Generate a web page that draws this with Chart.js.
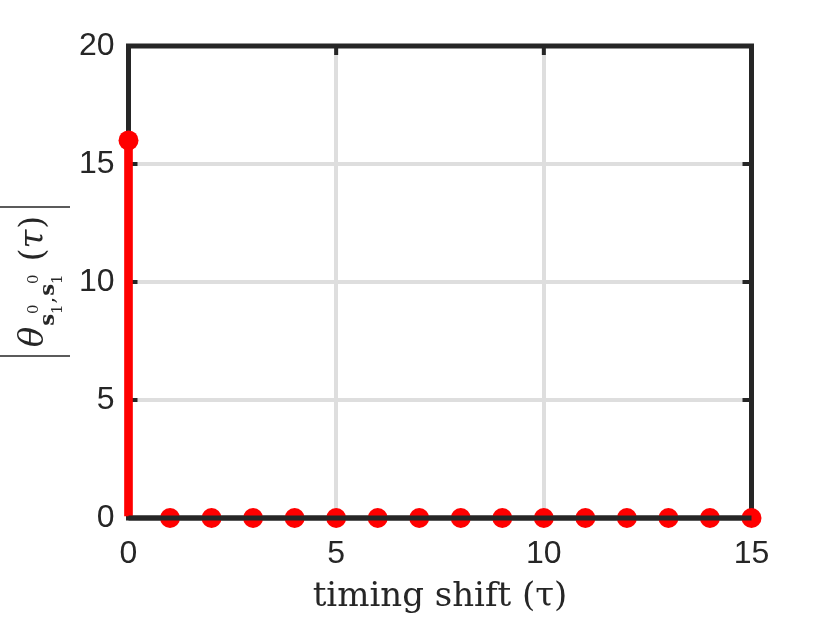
<!DOCTYPE html>
<html>
<head>
<meta charset="utf-8">
<script src="https://cdn.jsdelivr.net/npm/chart.js@4"></script>
<style>
  body { margin: 0; background: #fff; }
  canvas { display: block; }
</style>
</head>
<body>
<canvas id="stemChart" width="830" height="623"></canvas>
<script>
// data
const shifts = [0, 1, 2, 3, 4, 5, 6, 7, 8, 9, 10, 11, 12, 13, 14, 15];
const corrValues = [16, 0, 0, 0, 0, 0, 0, 0, 0, 0, 0, 0, 0, 0, 0, 0];
const xTicks = [0, 5, 10, 15];
const yTicks = [0, 5, 10, 15, 20];

const points = shifts.map((s, i) => ({ x: s, y: corrValues[i] }));

const axisColor = '#262626';
const serif = '"DejaVu Serif", "Liberation Serif", serif';
const tickFont = { family: '"Liberation Sans", Arial, Helvetica, sans-serif', size: 32 };

// box around the axes, inward tick marks, stem baseline
const framePlugin = {
  id: 'frame',
  beforeDatasetsDraw(chart) {
    const { ctx, chartArea: a, scales } = chart;
    ctx.save();
    ctx.strokeStyle = axisColor;
    ctx.lineWidth = 4;
    xTicks.forEach(v => {
      const px = scales.x.getPixelForValue(v);
      ctx.beginPath();
      ctx.moveTo(px, a.bottom); ctx.lineTo(px, a.bottom - 9);
      ctx.moveTo(px, a.top); ctx.lineTo(px, a.top + 9);
      ctx.stroke();
    });
    yTicks.forEach(v => {
      const py = scales.y.getPixelForValue(v);
      ctx.beginPath();
      ctx.moveTo(a.left, py); ctx.lineTo(a.left + 9, py);
      ctx.moveTo(a.right, py); ctx.lineTo(a.right - 9, py);
      ctx.stroke();
    });
    ctx.lineWidth = 5;
    ctx.strokeRect(a.left, a.top, a.right - a.left, a.bottom - a.top);
    ctx.restore();
  },
  afterDatasetsDraw(chart) {
    const { ctx, scales } = chart;
    const y0 = scales.y.getPixelForValue(0);
    ctx.save();
    ctx.strokeStyle = axisColor;
    ctx.lineWidth = 5;
    ctx.beginPath();
    ctx.moveTo(scales.x.getPixelForValue(shifts[0]), y0);
    ctx.lineTo(scales.x.getPixelForValue(shifts[shifts.length - 1]), y0);
    ctx.stroke();
    ctx.restore();
  }
};

// rotated y label |theta_{s_1^0,s_1^0}(tau)|
const yLabelPlugin = {
  id: 'yLabel',
  afterDraw(chart) {
    const ctx = chart.ctx;
    const big = '33px ' + serif;
    const bigIt = 'italic 34px ' + serif;
    const subB = 'bold 21px ' + serif;
    const sub = '21px ' + serif;
    const scr = '15px ' + serif;
    const script = { stack: true, top: '0', bottom: '1' };
    const parts = [
      { t: '\u03B8', f: bigIt, dy: 0, gap: 1 },
      { t: 's', f: subB, dy: 11 },
      script,
      { t: ',', f: sub, dy: 11, gap: 1 },
      { t: 's', f: subB, dy: 11 },
      script,
      { gap: 12 },
      { t: '(', f: big, dy: 0 },
      { t: '\u03C4', f: bigIt, dy: 0, gap: 1 },
      { t: ')', f: big, dy: 0 }
    ];
    ctx.save();
    ctx.translate(43, 281.5);
    ctx.rotate(-Math.PI / 2);
    ctx.fillStyle = axisColor;
    ctx.textBaseline = 'alphabetic';
    ctx.textAlign = 'left';
    const widthOf = p => {
      if (p.stack) {
        ctx.font = scr;
        return Math.max(ctx.measureText(p.top).width, ctx.measureText(p.bottom).width) + 1;
      }
      if (!p.t) return 0;
      ctx.font = p.f;
      return ctx.measureText(p.t).width;
    };
    let total = 0;
    parts.forEach(p => { total += widthOf(p) + (p.gap || 0); });
    let u = -total / 2;
    parts.forEach(p => {
      const w = widthOf(p);
      if (p.stack) {
        ctx.font = scr;
        ctx.fillText(p.top, u, -5);
        ctx.fillText(p.bottom, u, 19);
      } else if (p.t) {
        ctx.font = p.f;
        ctx.fillText(p.t, u, p.dy);
      }
      u += w + (p.gap || 0);
    });
    // absolute value bars
    ctx.strokeStyle = axisColor;
    ctx.lineWidth = 1.6;
    ctx.beginPath();
    ctx.moveTo(-74.5, -43); ctx.lineTo(-74.5, 27);
    ctx.moveTo(74.5, -43); ctx.lineTo(74.5, 27);
    ctx.stroke();
    ctx.restore();
  }
};

const ctx = document.getElementById('stemChart').getContext('2d');
const stemChart = new Chart(ctx, {
  data: {
    datasets: [
      {
        type: 'scatter',
        data: points,
        pointRadius: 10,
        pointHoverRadius: 10,
        pointBackgroundColor: '#ff0000',
        pointBorderWidth: 0,
        clip: false,
        order: 0
      },
      {
        type: 'bar',
        data: points,
        backgroundColor: '#ff0000',
        barThickness: 8,
        grouped: false,
        clip: false,
        order: 1
      }
    ]
  },
  options: {
    responsive: false,
    animation: false,
    devicePixelRatio: 1,
    layout: { padding: { top: 46, right: 78.5, left: 0, bottom: 0 } },
    plugins: {
      legend: { display: false },
      tooltip: { enabled: false }
    },
    scales: {
      x: {
        type: 'linear',
        min: 0,
        max: 15,
        offset: false,
        ticks: { stepSize: 5, padding: 17, font: tickFont, color: axisColor },
        grid: { color: '#dedede', lineWidth: 4, drawTicks: false, offset: false },
        border: { display: false },
        title: {
          display: true,
          text: 'timing shift (\u03C4)',
          font: { family: serif, size: 34 },
          color: axisColor,
          padding: { top: 0, bottom: 5 }
        },
        afterFit(scale) { scale.height = 105; }
      },
      y: {
        type: 'linear',
        min: 0,
        max: 20,
        ticks: { stepSize: 5, padding: 14, font: tickFont, color: axisColor },
        grid: { color: '#dedede', lineWidth: 4, drawTicks: false },
        border: { display: false },
        afterFit(scale) { scale.width = 128.5; }
      }
    }
  },
  plugins: [framePlugin, yLabelPlugin]
});
</script>
</body>
</html>
